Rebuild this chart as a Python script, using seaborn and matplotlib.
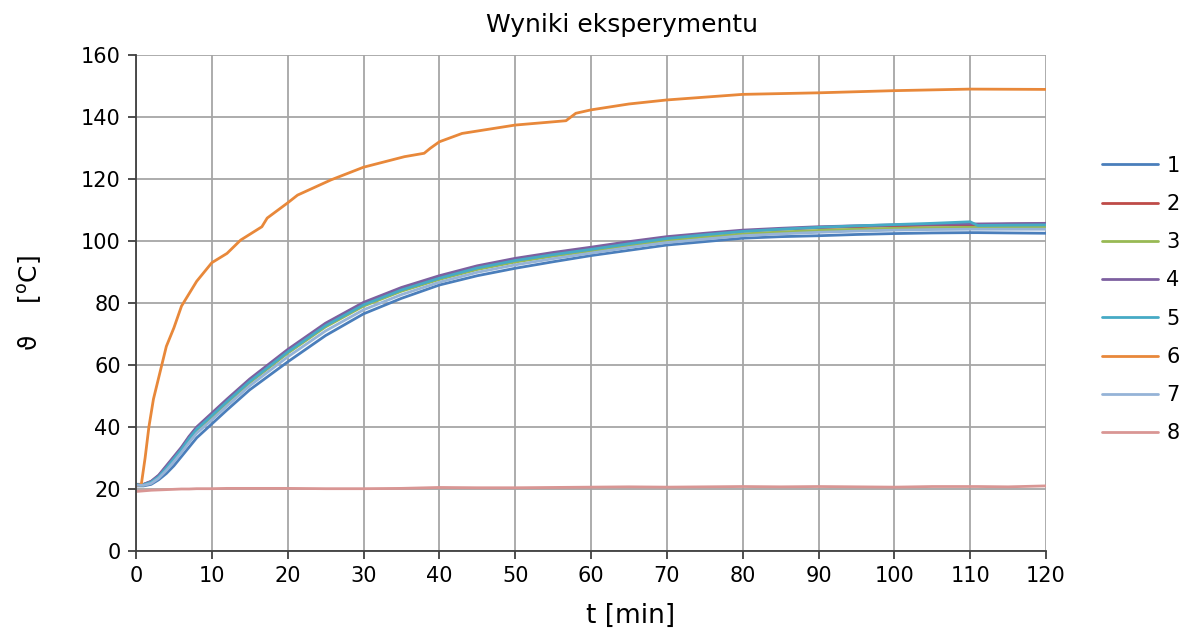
import numpy as np
import pandas as pd
import matplotlib
matplotlib.use("Agg")
import matplotlib.pyplot as plt
import seaborn as sns
from matplotlib.lines import Line2D

# ---- data ----
t_main = [0, 1, 2, 3, 4, 5, 6, 7, 8, 10, 12, 15, 20, 25, 30, 35, 40, 45, 50, 55,
          60, 65, 70, 75, 80, 85, 90, 95, 100, 105, 110, 111, 115, 120]

s1 = [21.0, 21.0, 21.5, 23.0, 25.0, 27.5, 30.5, 33.5, 36.5, 41.0, 45.5, 52.0, 61.0, 69.5, 76.5, 81.5, 85.8, 88.8, 91.2, 93.3,
      95.3, 97.0, 98.7, 99.8, 100.9, 101.4, 101.7, 102.1, 102.4, 102.6, 102.7, 102.7, 102.6, 102.5]
s2 = [21.5, 21.5, 22.4, 24.3, 27.2, 30.2, 33.2, 36.7, 39.7, 44.2, 48.7, 55.2, 64.7, 73.2, 79.9, 84.7, 88.5, 91.7, 94.1, 96.0,
      97.7, 99.5, 101.1, 102.2, 103.2, 103.8, 104.3, 104.6, 104.9, 105.1, 105.2, 105.2, 105.4, 105.5]
s3 = [21.3, 21.3, 22.0, 23.8, 26.5, 29.5, 32.5, 36.0, 39.0, 43.3, 47.8, 54.3, 63.8, 72.3, 79.0, 83.8, 87.6, 90.8, 93.2, 95.1,
      96.8, 98.6, 100.2, 101.3, 102.3, 102.9, 103.4, 103.8, 104.1, 104.3, 104.4, 104.4, 104.5, 104.6]
s4 = [21.5, 21.5, 22.5, 24.5, 27.5, 30.5, 33.5, 37.0, 40.0, 44.5, 49.0, 55.5, 65.0, 73.5, 80.2, 85.0, 88.8, 92.0, 94.4, 96.3,
      98.0, 99.8, 101.4, 102.5, 103.5, 104.1, 104.6, 104.9, 105.2, 105.4, 105.5, 105.5, 105.6, 105.7]
s5 = [21.4, 21.4, 22.2, 24.0, 26.8, 29.8, 32.8, 36.3, 39.3, 43.7, 48.2, 54.7, 64.2, 72.7, 79.4, 84.2, 88.0, 91.3, 93.7, 95.6,
      97.3, 99.1, 100.8, 102.0, 103.1, 103.8, 104.4, 104.9, 105.3, 105.7, 106.2, 105.0, 105.1, 105.2]
s7 = [21.2, 21.2, 21.8, 23.5, 26.0, 28.8, 31.8, 35.0, 38.0, 42.3, 46.8, 53.3, 62.6, 71.0, 77.8, 82.7, 86.7, 89.9, 92.3, 94.3,
      96.1, 97.9, 99.5, 100.6, 101.7, 102.3, 102.8, 103.2, 103.5, 103.7, 103.8, 103.8, 103.8, 103.8]
s8 = [19.2, 19.4, 19.6, 19.7, 19.8, 19.9, 20.0, 20.0, 20.1, 20.1, 20.2, 20.2, 20.2, 20.1, 20.1, 20.2, 20.5, 20.4, 20.4, 20.5,
      20.6, 20.7, 20.6, 20.7, 20.8, 20.7, 20.8, 20.7, 20.6, 20.8, 20.8, 20.8, 20.7, 21.0]

t6 = [0, 0.7, 1.2, 1.7, 2.3, 3, 4, 5, 6, 7, 8, 10, 12, 13.8, 16.6, 17.3, 20, 21.3, 25.7, 30,
      35.4, 38, 38.8, 40, 43, 50, 56.7, 58, 60, 65, 70, 80, 90, 100, 110, 120]
s6 = [21.0, 21.5, 30.0, 40.0, 49.0, 56.0, 66.0, 72.0, 79.0, 83.0, 87.0, 93.0, 96.0, 100.3, 104.6, 107.4, 112.3, 114.8, 119.7, 123.8,
      127.2, 128.3, 129.9, 132.0, 134.7, 137.4, 138.8, 141.2, 142.3, 144.2, 145.5, 147.3, 147.8, 148.5, 149.0, 148.9]

series_names = ["1", "2", "3", "4", "5", "6", "7", "8"]
colors = ["#4A7EBB", "#BE4B48", "#98B954", "#7D60A0", "#46AAC5", "#E8883A", "#95B3D7", "#D99694"]

x_ticks = list(range(0, 121, 10))
y_ticks = list(range(0, 161, 20))

# ---- long-form table ----
frames = []
vals = {"1": s1, "2": s2, "3": s3, "4": s4, "5": s5, "6": s6, "7": s7, "8": s8}
for name in series_names:
    tt = t6 if name == "6" else t_main
    frames.append(pd.DataFrame({"t": tt, "v": vals[name], "seria": name}))
df = pd.concat(frames, ignore_index=True)

sns.set_theme(style="white")
plt.rcParams["font.family"] = ["DejaVu Sans"]
plt.rcParams["text.color"] = "black"
plt.rcParams["axes.labelcolor"] = "black"

fig = plt.figure(figsize=(11.88, 6.35), dpi=100)
ax = fig.add_axes([136 / 1188, 1 - 551 / 635, (1046 - 136) / 1188, (551 - 55) / 635])

sns.lineplot(data=df, x="t", y="v", hue="seria", hue_order=series_names,
             palette=colors, linewidth=2, ax=ax, legend=False, sort=False,
             estimator=None)

ax.set_xlim(0, 120)
ax.set_ylim(0, 160)
ax.set_xticks(x_ticks)
ax.set_yticks(y_ticks)
ax.set_xticklabels([str(v) for v in x_ticks], fontsize=15)
ax.set_yticklabels([str(v) for v in y_ticks], fontsize=15)
ax.grid(True, color="#A6A6A6", linewidth=1.3)
ax.set_axisbelow(True)
for s in ["top", "right"]:
    ax.spines[s].set_visible(False)
for s in ["left", "bottom"]:
    ax.spines[s].set_color("#404040")
    ax.spines[s].set_linewidth(1.3)
ax.tick_params(axis="both", direction="out", length=6, width=1.3, color="#404040",
               bottom=True, left=True, pad=5, labelcolor="black")

ax.set_xlabel("t [min]", fontsize=19)
ax.xaxis.set_label_coords((631 - 136) / 910, -0.105)
ax.set_ylabel("ϑ    [$^{\\rm o}$C]", fontsize=18)
ax.yaxis.set_label_coords(-(136 - 44) / 910, 0.5)

fig.text(622 / 1188, 1 - 25 / 635, "Wyniki eksperymentu", ha="center", va="center", fontsize=18)

handles = [Line2D([0], [0], color=c, linewidth=2) for c in colors]
fig.legend(handles, series_names, loc="upper left", bbox_to_anchor=(1083 / 1188, 1 - 137 / 635),
           frameon=False, fontsize=15, handlelength=2.7, handletextpad=0.4, labelspacing=0.875)

fig.savefig("out.png", dpi=100)
